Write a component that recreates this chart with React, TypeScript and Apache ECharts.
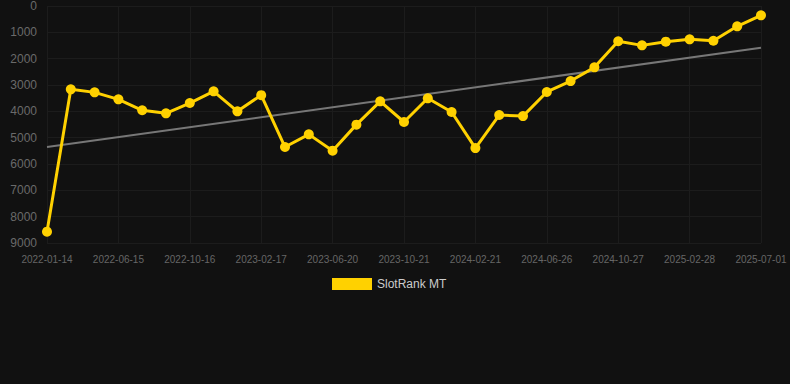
import React, { useEffect, useRef } from "react";
import * as echarts from "echarts";

const categories: string[] = [
  "2022-01-14", "2022-03-05", "2022-04-24", "2022-06-15", "2022-07-26", "2022-09-05",
  "2022-10-16", "2022-11-26", "2023-01-06", "2023-02-17", "2023-03-30", "2023-05-10",
  "2023-06-20", "2023-07-31", "2023-09-10", "2023-10-21", "2023-12-01", "2024-01-11",
  "2024-02-21", "2024-04-02", "2024-05-15", "2024-06-26", "2024-08-05", "2024-09-16",
  "2024-10-27", "2024-12-07", "2025-01-17", "2025-02-28", "2025-04-08", "2025-05-20",
  "2025-07-01",
];

const rankValues: number[] = [
  8570, 3165, 3280, 3545, 3960, 4075, 3685, 3240, 4000, 3385, 5355, 4875,
  5495, 4505, 3620, 4405, 3505, 4025, 5395, 4140, 4180, 3265, 2850, 2330,
  1340, 1495, 1355, 1265, 1320, 772, 355,
];

// trend line end points (first and last category)
const trendEnds: number[] = [5355, 1583];

const yTicks = { min: 0, max: 9000, interval: 1000 };

const seriesName = "SlotRank MT";

export default function App() {
  const ref = useRef<HTMLDivElement>(null);

  useEffect(() => {
    document.body.style.margin = "0";
    document.body.style.background = "#111111";
    if (!ref.current) return;
    const chart = echarts.init(ref.current, null, { renderer: "svg" });
    const trendData: (number | null)[] = categories.map((_, i) =>
      i === 0 ? trendEnds[0] : i === categories.length - 1 ? trendEnds[1] : null
    );
    chart.setOption({
      animation: false,
      backgroundColor: "#111111",
      grid: { left: 47, right: 29, top: 6, bottom: 141, containLabel: false },
      legend: {
        data: [seriesName],
        left: 327,
        top: 273,
        icon: "rect",
        itemWidth: 40,
        itemHeight: 12,
        textStyle: { color: "#cccccc", fontSize: 12, fontFamily: "Liberation Sans, Arial, sans-serif" },
      },
      xAxis: {
        type: "category",
        data: categories,
        boundaryGap: false,
        axisLine: { show: false },
        axisTick: { show: false },
        axisLabel: {
          interval: 2,
          color: "#666666",
          fontSize: 10,
          margin: 11,
          fontFamily: "Liberation Sans, Arial, sans-serif",
        },
        splitLine: { show: true, interval: 2, lineStyle: { color: "#1c1c1c", width: 1 } },
      },
      yAxis: {
        type: "value",
        inverse: true,
        min: yTicks.min,
        max: yTicks.max,
        interval: yTicks.interval,
        axisLine: { show: false },
        axisTick: { show: false },
        axisLabel: {
          color: "#6a6a6a",
          fontSize: 12,
          margin: 10,
          formatter: (v: number) => String(v),
          fontFamily: "Liberation Sans, Arial, sans-serif",
        },
        splitLine: { show: true, lineStyle: { color: "#1c1c1c", width: 1 } },
      },
      series: [
        {
          name: "Trend",
          type: "line",
          data: trendData,
          connectNulls: true,
          symbol: "none",
          lineStyle: { color: "#777777", width: 2 },
          z: 1,
          silent: true,
        },
        {
          name: seriesName,
          type: "line",
          data: rankValues,
          symbol: "circle",
          symbolSize: 10,
          itemStyle: { color: "#FFD100" },
          lineStyle: { color: "#FFD100", width: 3 },
          z: 2,
        },
      ],
    });
    return () => chart.dispose();
  }, []);

  return <div ref={ref} style={{ width: 790, height: 384 }} />;
}
